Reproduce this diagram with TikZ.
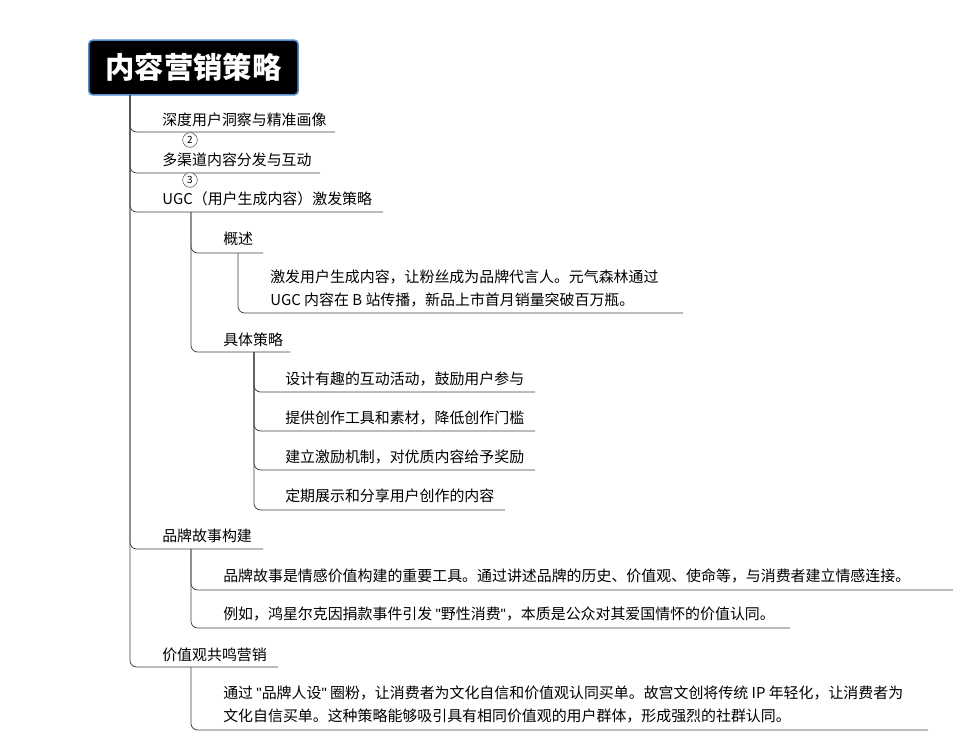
\documentclass[tikz,border=0pt]{standalone}
\usepackage{fontspec}
\setmainfont{Noto Sans CJK SC}
\newfontfamily\lat{Liberation Sans}
\newcommand{\qq}{{\lat"}}
\begin{document}
\begin{tikzpicture}[x=0.75pt,y=-0.75pt,
  ln/.style={draw=black!75,line width=0.6pt,rounded corners=5pt},
  txt/.style={anchor=west,inner sep=0pt,font=\fontsize{11.2pt}{17pt}\selectfont},
  num/.style={circle,draw=black!70,fill=white,inner sep=0pt,minimum size=11pt,font=\fontsize{7.5pt}{8pt}\selectfont}]
\useasboundingbox (0,0) rectangle (970,744);
\node[fill=black,draw={rgb,255:red,80;green,140;blue,210},line width=1.2pt,rounded corners=3pt,
  minimum width=157pt,minimum height=41pt,text=white,font=\fontsize{22pt}{24pt}\selectfont\bfseries] (root) at (193.5,67.5) {内容营销策略};
% level 1
\node[txt] (a) at (162,120) {深度用户洞察与精准画像};
\node[txt] (b) at (162,160) {多渠道内容分发与互动};
\node[txt] (c) at (162,199) {UGC（用户生成内容）激发策略};
\node[txt] (d) at (162,536) {品牌故事构建};
\node[txt] (e) at (162,655) {价值观共鸣营销};
\coordinate (t0) at (130,95);
\draw[ln] (t0) |- (335,132);
\draw[ln] (t0) |- (320,173);
\draw[ln] (t0) |- (383,212);
\draw[ln] (t0) |- (263,549);
\draw[ln] (t0) |- (278,667);
\node[num] (n2) at (190,140) {2};
\node[num] (n3) at (190,180) {3};
% UGC
\node[txt] (c1) at (223,239) {概述};
\node[txt] (c2) at (223,340) {具体策略};
\coordinate (t1) at (191,212);
\draw[ln] (t1) |- (263,253);
\draw[ln] (t1) |- (290,352);
\node[txt,align=left] (c11) at (270,288.5) {激发用户生成内容，让粉丝成为品牌代言人。元气森林通过\\UGC 内容在 B 站传播，新品上市首月销量突破百万瓶。};
\draw[ln] (238,253) |- (683,313);
\node[txt] (s1) at (285,379) {设计有趣的互动活动，鼓励用户参与};
\node[txt] (s2) at (285,418) {提供创作工具和素材，降低创作门槛};
\node[txt] (s3) at (285,457) {建立激励机制，对优质内容给予奖励};
\node[txt] (s4) at (285,496) {定期展示和分享用户创作的内容};
\coordinate (t2) at (254,352);
\draw[ln] (t2) |- (535,392);
\draw[ln] (t2) |- (535,431);
\draw[ln] (t2) |- (535,470);
\draw[ln] (t2) |- (505,510);
% brand story
\node[txt] (d1) at (223,576) {品牌故事是情感价值构建的重要工具。通过讲述品牌的历史、价值观、使命等，与消费者建立情感连接。};
\node[txt] (d2) at (223,614) {例如，鸿星尔克因捐款事件引发 \qq{}野性消费\qq{}，本质是公众对其爱国情怀的价值认同。};
\coordinate (t3) at (191,549);
\draw[ln] (t3) |- (953,590);
\draw[ln] (t3) |- (790,628);
% values
\node[txt,align=left] (e1) at (223,704.5) {通过 \qq{}品牌人设\qq{} 圈粉，让消费者为文化自信和价值观认同买单。故宫文创将传统 IP 年轻化，让消费者为\\文化自信买单。这种策略能够吸引具有相同价值观的用户群体，形成强烈的社群认同。};
\draw[ln] (191,667) |- (928,730);
\end{tikzpicture}
\end{document}
